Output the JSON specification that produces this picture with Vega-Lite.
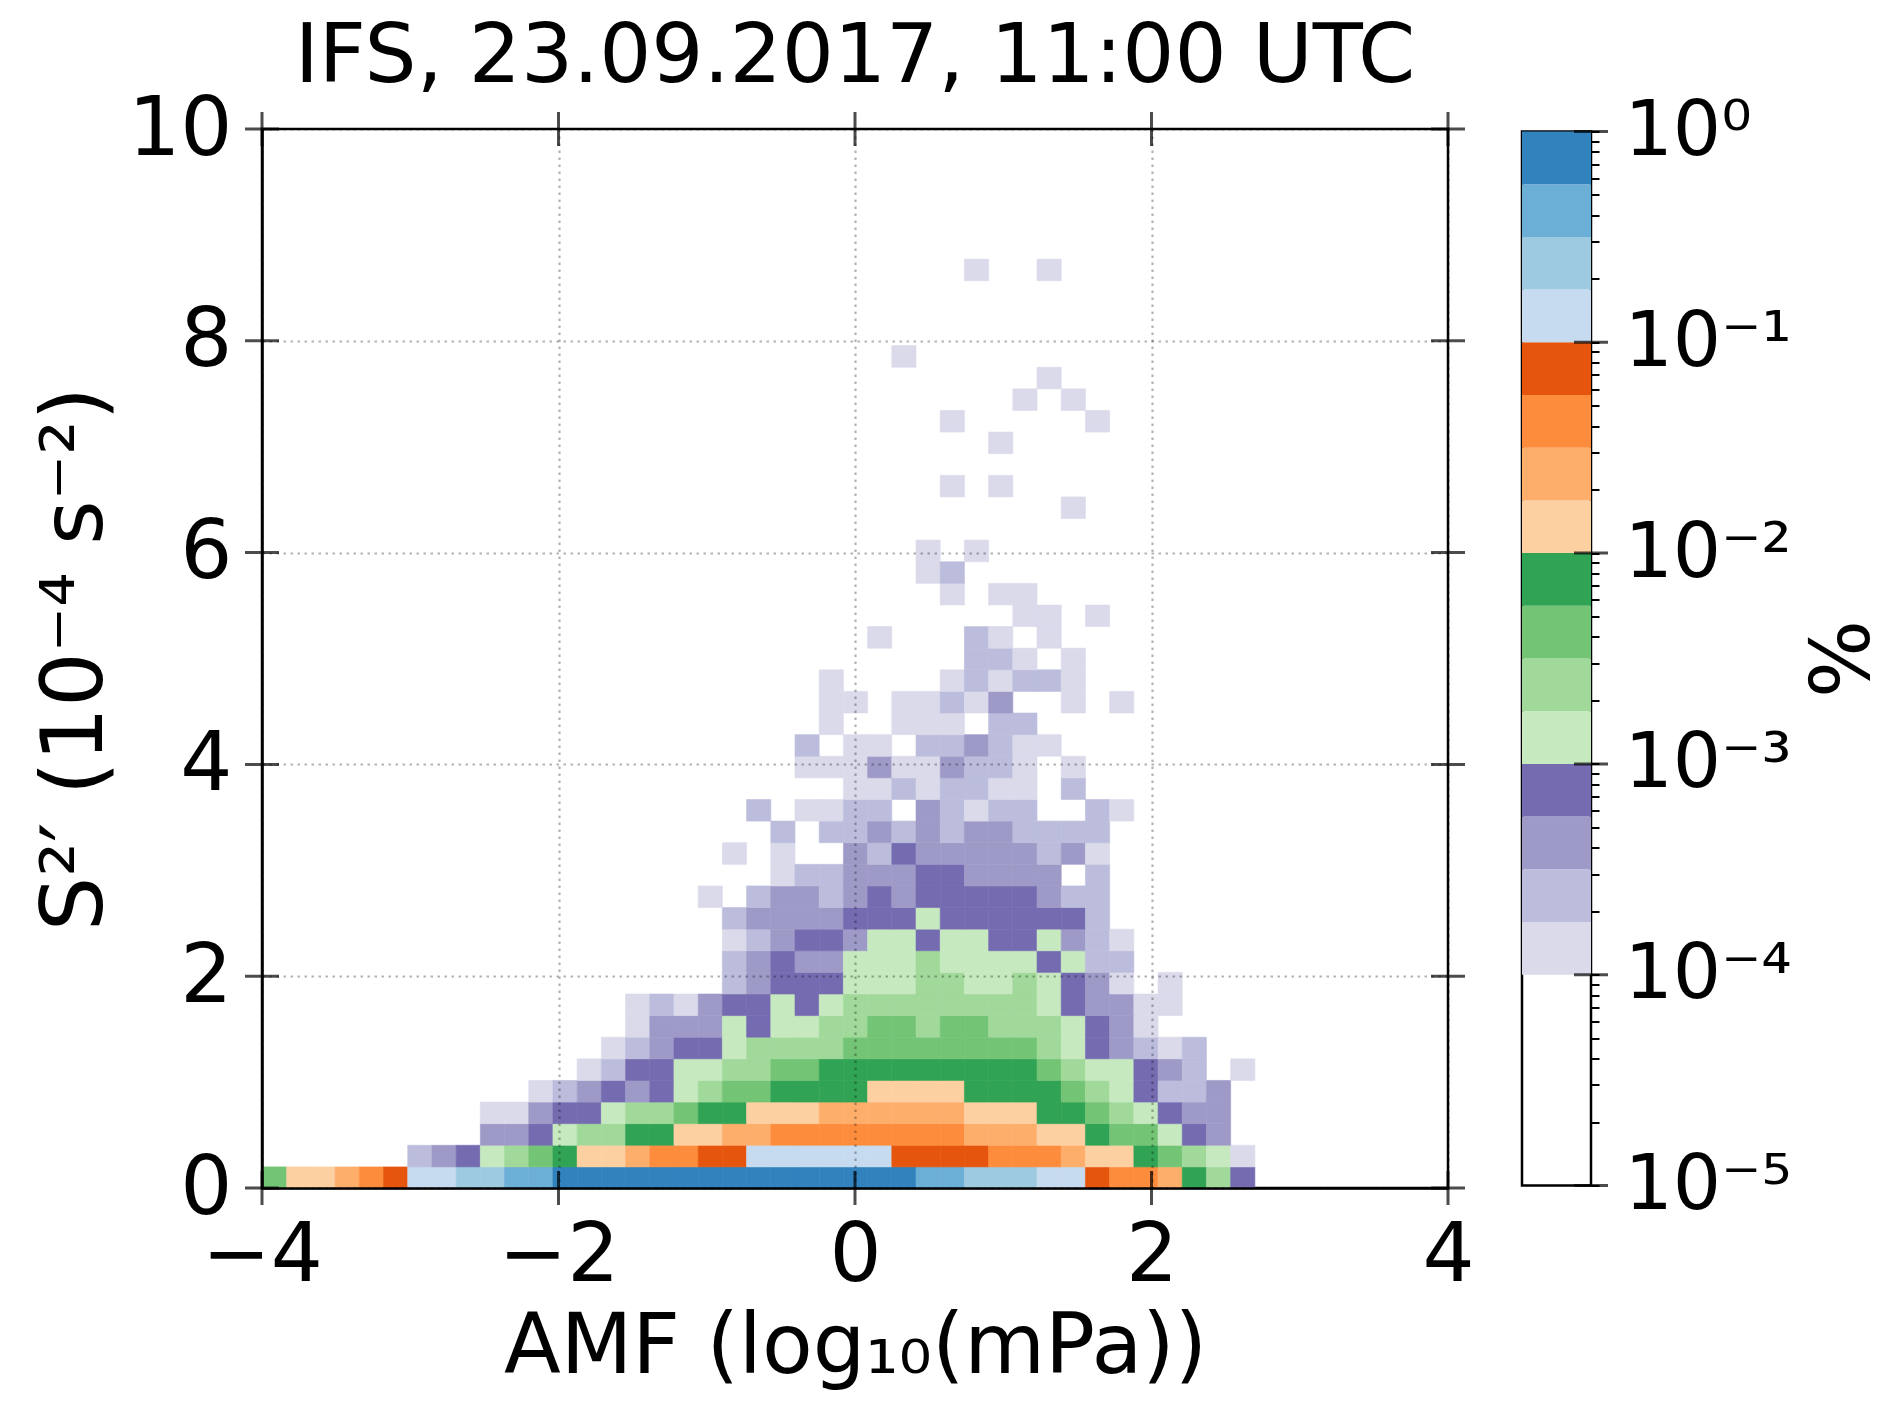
{
  "$schema": "https://vega.github.io/schema/vega-lite/v6.json",
  "autosize": {"type": "none"},
  "padding": {"left": 262, "top": 129, "right": 1630, "bottom": 1283},
  "background": "white",
  "config": {
    "font": "DejaVu Sans",
    "view": {"stroke": "black", "strokeWidth": 2.5},
    "axis": {"labelColor": "black", "titleColor": "black", "titleFontWeight": "normal", "labelFont": "DejaVu Sans", "titleFont": "DejaVu Sans"}
  },
  "datasets": {
    "cells": [
      {"x":-4,"y":0,"p":0.00422},{"x":-3.8367,"y":0,"p":0.0133},{"x":-3.6735,"y":0,"p":0.0133},{"x":-3.5102,"y":0,"p":0.0237},
      {"x":-3.3469,"y":0,"p":0.0422},{"x":-3.1837,"y":0,"p":0.075},{"x":-3.0204,"y":0,"p":0.133},{"x":-2.8571,"y":0,"p":0.133},
      {"x":-2.6939,"y":0,"p":0.237},{"x":-2.5306,"y":0,"p":0.237},{"x":-2.3673,"y":0,"p":0.422},{"x":-2.2041,"y":0,"p":0.422},
      {"x":-2.0408,"y":0,"p":0.75},{"x":-1.8776,"y":0,"p":0.75},{"x":-1.7143,"y":0,"p":0.75},{"x":-1.551,"y":0,"p":0.75},
      {"x":-1.3878,"y":0,"p":0.75},{"x":-1.2245,"y":0,"p":0.75},{"x":-1.0612,"y":0,"p":0.75},{"x":-0.898,"y":0,"p":0.75},
      {"x":-0.7347,"y":0,"p":0.75},{"x":-0.5714,"y":0,"p":0.75},{"x":-0.4082,"y":0,"p":0.75},{"x":-0.2449,"y":0,"p":0.75},
      {"x":-0.0816,"y":0,"p":0.75},{"x":0.0816,"y":0,"p":0.75},{"x":0.2449,"y":0,"p":0.75},{"x":0.4082,"y":0,"p":0.422},
      {"x":0.5714,"y":0,"p":0.422},{"x":0.7347,"y":0,"p":0.237},{"x":0.898,"y":0,"p":0.237},{"x":1.0612,"y":0,"p":0.237},
      {"x":1.2245,"y":0,"p":0.133},{"x":1.3878,"y":0,"p":0.133},{"x":1.551,"y":0,"p":0.075},{"x":1.7143,"y":0,"p":0.0422},
      {"x":1.8776,"y":0,"p":0.0422},{"x":2.0408,"y":0,"p":0.0237},{"x":2.2041,"y":0,"p":0.0075},{"x":2.3673,"y":0,"p":0.00237},
      {"x":2.5306,"y":0,"p":0.00075},

      {"x":-3.0204,"y":0.2041,"p":0.000237},{"x":-2.8571,"y":0.2041,"p":0.000422},{"x":-2.6939,"y":0.2041,"p":0.00075},
      {"x":-2.5306,"y":0.2041,"p":0.00133},{"x":-2.3673,"y":0.2041,"p":0.00237},{"x":-2.2041,"y":0.2041,"p":0.00422},
      {"x":-2.0408,"y":0.2041,"p":0.0075},{"x":-1.8776,"y":0.2041,"p":0.0133},{"x":-1.7143,"y":0.2041,"p":0.0133},
      {"x":-1.551,"y":0.2041,"p":0.0237},{"x":-1.3878,"y":0.2041,"p":0.0422},{"x":-1.2245,"y":0.2041,"p":0.0422},
      {"x":-1.0612,"y":0.2041,"p":0.075},{"x":-0.898,"y":0.2041,"p":0.075},{"x":-0.7347,"y":0.2041,"p":0.133},
      {"x":-0.5714,"y":0.2041,"p":0.133},{"x":-0.4082,"y":0.2041,"p":0.133},{"x":-0.2449,"y":0.2041,"p":0.133},
      {"x":-0.0816,"y":0.2041,"p":0.133},{"x":0.0816,"y":0.2041,"p":0.133},{"x":0.2449,"y":0.2041,"p":0.075},
      {"x":0.4082,"y":0.2041,"p":0.075},{"x":0.5714,"y":0.2041,"p":0.075},{"x":0.7347,"y":0.2041,"p":0.075},
      {"x":0.898,"y":0.2041,"p":0.0422},{"x":1.0612,"y":0.2041,"p":0.0422},{"x":1.2245,"y":0.2041,"p":0.0422},
      {"x":1.3878,"y":0.2041,"p":0.0237},{"x":1.551,"y":0.2041,"p":0.0133},{"x":1.7143,"y":0.2041,"p":0.0133},
      {"x":1.8776,"y":0.2041,"p":0.0075},{"x":2.0408,"y":0.2041,"p":0.00422},{"x":2.2041,"y":0.2041,"p":0.00237},
      {"x":2.3673,"y":0.2041,"p":0.00133},{"x":2.5306,"y":0.2041,"p":0.000133},

      {"x":-2.5306,"y":0.4082,"p":0.000422},{"x":-2.3673,"y":0.4082,"p":0.000422},{"x":-2.2041,"y":0.4082,"p":0.00075},
      {"x":-2.0408,"y":0.4082,"p":0.00133},{"x":-1.8776,"y":0.4082,"p":0.00237},{"x":-1.7143,"y":0.4082,"p":0.00237},
      {"x":-1.551,"y":0.4082,"p":0.0075},{"x":-1.3878,"y":0.4082,"p":0.0075},{"x":-1.2245,"y":0.4082,"p":0.0133},
      {"x":-1.0612,"y":0.4082,"p":0.0133},{"x":-0.898,"y":0.4082,"p":0.0237},{"x":-0.7347,"y":0.4082,"p":0.0237},
      {"x":-0.5714,"y":0.4082,"p":0.0422},{"x":-0.4082,"y":0.4082,"p":0.0422},{"x":-0.2449,"y":0.4082,"p":0.0422},
      {"x":-0.0816,"y":0.4082,"p":0.0422},{"x":0.0816,"y":0.4082,"p":0.0422},{"x":0.2449,"y":0.4082,"p":0.0422},
      {"x":0.4082,"y":0.4082,"p":0.0422},{"x":0.5714,"y":0.4082,"p":0.0422},{"x":0.7347,"y":0.4082,"p":0.0237},
      {"x":0.898,"y":0.4082,"p":0.0237},{"x":1.0612,"y":0.4082,"p":0.0237},{"x":1.2245,"y":0.4082,"p":0.0133},
      {"x":1.3878,"y":0.4082,"p":0.0133},{"x":1.551,"y":0.4082,"p":0.0075},{"x":1.7143,"y":0.4082,"p":0.00422},
      {"x":1.8776,"y":0.4082,"p":0.00422},{"x":2.0408,"y":0.4082,"p":0.00133},{"x":2.2041,"y":0.4082,"p":0.00075},
      {"x":2.3673,"y":0.4082,"p":0.000422},

      {"x":-2.5306,"y":0.6122,"p":0.000133},{"x":-2.3673,"y":0.6122,"p":0.000133},{"x":-2.2041,"y":0.6122,"p":0.000422},
      {"x":-2.0408,"y":0.6122,"p":0.00075},{"x":-1.8776,"y":0.6122,"p":0.00075},{"x":-1.7143,"y":0.6122,"p":0.00133},
      {"x":-1.551,"y":0.6122,"p":0.00237},{"x":-1.3878,"y":0.6122,"p":0.00237},{"x":-1.2245,"y":0.6122,"p":0.00422},
      {"x":-1.0612,"y":0.6122,"p":0.0075},{"x":-0.898,"y":0.6122,"p":0.0075},{"x":-0.7347,"y":0.6122,"p":0.0133},
      {"x":-0.5714,"y":0.6122,"p":0.0133},{"x":-0.4082,"y":0.6122,"p":0.0133},{"x":-0.2449,"y":0.6122,"p":0.0237},
      {"x":-0.0816,"y":0.6122,"p":0.0237},{"x":0.0816,"y":0.6122,"p":0.0237},{"x":0.2449,"y":0.6122,"p":0.0237},
      {"x":0.4082,"y":0.6122,"p":0.0237},{"x":0.5714,"y":0.6122,"p":0.0237},{"x":0.7347,"y":0.6122,"p":0.0133},
      {"x":0.898,"y":0.6122,"p":0.0133},{"x":1.0612,"y":0.6122,"p":0.0133},{"x":1.2245,"y":0.6122,"p":0.0075},
      {"x":1.3878,"y":0.6122,"p":0.0075},{"x":1.551,"y":0.6122,"p":0.00422},{"x":1.7143,"y":0.6122,"p":0.00237},
      {"x":1.8776,"y":0.6122,"p":0.00133},{"x":2.0408,"y":0.6122,"p":0.00075},{"x":2.2041,"y":0.6122,"p":0.000422},
      {"x":2.3673,"y":0.6122,"p":0.000422},

      {"x":-2.2041,"y":0.8163,"p":0.000133},{"x":-2.0408,"y":0.8163,"p":0.000237},{"x":-1.8776,"y":0.8163,"p":0.000422},
      {"x":-1.7143,"y":0.8163,"p":0.00075},{"x":-1.551,"y":0.8163,"p":0.000422},{"x":-1.3878,"y":0.8163,"p":0.00075},
      {"x":-1.2245,"y":0.8163,"p":0.00133},{"x":-1.0612,"y":0.8163,"p":0.00237},{"x":-0.898,"y":0.8163,"p":0.00422},
      {"x":-0.7347,"y":0.8163,"p":0.00422},{"x":-0.5714,"y":0.8163,"p":0.0075},{"x":-0.4082,"y":0.8163,"p":0.0075},
      {"x":-0.2449,"y":0.8163,"p":0.0075},{"x":-0.0816,"y":0.8163,"p":0.0075},{"x":0.0816,"y":0.8163,"p":0.0133},
      {"x":0.2449,"y":0.8163,"p":0.0133},{"x":0.4082,"y":0.8163,"p":0.0133},{"x":0.5714,"y":0.8163,"p":0.0133},
      {"x":0.7347,"y":0.8163,"p":0.0075},{"x":0.898,"y":0.8163,"p":0.0075},{"x":1.0612,"y":0.8163,"p":0.0075},
      {"x":1.2245,"y":0.8163,"p":0.0075},{"x":1.3878,"y":0.8163,"p":0.00422},{"x":1.551,"y":0.8163,"p":0.00237},
      {"x":1.7143,"y":0.8163,"p":0.00133},{"x":1.8776,"y":0.8163,"p":0.00075},{"x":2.0408,"y":0.8163,"p":0.000237},
      {"x":2.2041,"y":0.8163,"p":0.000237},{"x":2.3673,"y":0.8163,"p":0.000422},

      {"x":-1.8776,"y":1.0204,"p":0.000133},{"x":-1.7143,"y":1.0204,"p":0.000237},{"x":-1.551,"y":1.0204,"p":0.00075},
      {"x":-1.3878,"y":1.0204,"p":0.00075},{"x":-1.2245,"y":1.0204,"p":0.00133},{"x":-1.0612,"y":1.0204,"p":0.00133},
      {"x":-0.898,"y":1.0204,"p":0.00237},{"x":-0.7347,"y":1.0204,"p":0.00237},{"x":-0.5714,"y":1.0204,"p":0.00422},
      {"x":-0.4082,"y":1.0204,"p":0.00422},{"x":-0.2449,"y":1.0204,"p":0.0075},{"x":-0.0816,"y":1.0204,"p":0.0075},
      {"x":0.0816,"y":1.0204,"p":0.0075},{"x":0.2449,"y":1.0204,"p":0.0075},{"x":0.4082,"y":1.0204,"p":0.0075},
      {"x":0.5714,"y":1.0204,"p":0.0075},{"x":0.7347,"y":1.0204,"p":0.0075},{"x":0.898,"y":1.0204,"p":0.0075},
      {"x":1.0612,"y":1.0204,"p":0.0075},{"x":1.2245,"y":1.0204,"p":0.00422},{"x":1.3878,"y":1.0204,"p":0.00237},
      {"x":1.551,"y":1.0204,"p":0.00133},{"x":1.7143,"y":1.0204,"p":0.00133},{"x":1.8776,"y":1.0204,"p":0.00075},
      {"x":2.0408,"y":1.0204,"p":0.000422},{"x":2.2041,"y":1.0204,"p":0.000237},{"x":2.5306,"y":1.0204,"p":0.000133},

      {"x":-1.7143,"y":1.2245,"p":0.000133},{"x":-1.551,"y":1.2245,"p":0.000237},{"x":-1.3878,"y":1.2245,"p":0.000422},
      {"x":-1.2245,"y":1.2245,"p":0.00075},{"x":-1.0612,"y":1.2245,"p":0.00075},{"x":-0.898,"y":1.2245,"p":0.00133},
      {"x":-0.7347,"y":1.2245,"p":0.00237},{"x":-0.5714,"y":1.2245,"p":0.00237},{"x":-0.4082,"y":1.2245,"p":0.00237},
      {"x":-0.2449,"y":1.2245,"p":0.00237},{"x":-0.0816,"y":1.2245,"p":0.00422},{"x":0.0816,"y":1.2245,"p":0.00422},
      {"x":0.2449,"y":1.2245,"p":0.00422},{"x":0.4082,"y":1.2245,"p":0.00422},{"x":0.5714,"y":1.2245,"p":0.00422},
      {"x":0.7347,"y":1.2245,"p":0.00422},{"x":0.898,"y":1.2245,"p":0.00422},{"x":1.0612,"y":1.2245,"p":0.00422},
      {"x":1.2245,"y":1.2245,"p":0.00237},{"x":1.3878,"y":1.2245,"p":0.00133},{"x":1.551,"y":1.2245,"p":0.00075},
      {"x":1.7143,"y":1.2245,"p":0.000422},{"x":1.8776,"y":1.2245,"p":0.000237},{"x":2.0408,"y":1.2245,"p":0.000133},
      {"x":2.2041,"y":1.2245,"p":0.000237},

      {"x":-1.551,"y":1.4286,"p":0.000133},{"x":-1.3878,"y":1.4286,"p":0.000422},{"x":-1.2245,"y":1.4286,"p":0.000422},
      {"x":-1.0612,"y":1.4286,"p":0.000422},{"x":-0.898,"y":1.4286,"p":0.00133},{"x":-0.7347,"y":1.4286,"p":0.00075},
      {"x":-0.5714,"y":1.4286,"p":0.00133},{"x":-0.4082,"y":1.4286,"p":0.00133},{"x":-0.2449,"y":1.4286,"p":0.00237},
      {"x":-0.0816,"y":1.4286,"p":0.00237},{"x":0.0816,"y":1.4286,"p":0.00422},{"x":0.2449,"y":1.4286,"p":0.00422},
      {"x":0.4082,"y":1.4286,"p":0.00237},{"x":0.5714,"y":1.4286,"p":0.00422},{"x":0.7347,"y":1.4286,"p":0.00422},
      {"x":0.898,"y":1.4286,"p":0.00237},{"x":1.0612,"y":1.4286,"p":0.00237},{"x":1.2245,"y":1.4286,"p":0.00237},
      {"x":1.3878,"y":1.4286,"p":0.00133},{"x":1.551,"y":1.4286,"p":0.00075},{"x":1.7143,"y":1.4286,"p":0.000422},
      {"x":1.8776,"y":1.4286,"p":0.000133},

      {"x":-1.551,"y":1.6327,"p":0.000133},{"x":-1.3878,"y":1.6327,"p":0.000237},{"x":-1.2245,"y":1.6327,"p":0.000133},
      {"x":-1.0612,"y":1.6327,"p":0.000422},{"x":-0.898,"y":1.6327,"p":0.00075},{"x":-0.7347,"y":1.6327,"p":0.00075},
      {"x":-0.5714,"y":1.6327,"p":0.00133},{"x":-0.4082,"y":1.6327,"p":0.00075},{"x":-0.2449,"y":1.6327,"p":0.00133},
      {"x":-0.0816,"y":1.6327,"p":0.00237},{"x":0.0816,"y":1.6327,"p":0.00237},{"x":0.2449,"y":1.6327,"p":0.00237},
      {"x":0.4082,"y":1.6327,"p":0.00237},{"x":0.5714,"y":1.6327,"p":0.00237},{"x":0.7347,"y":1.6327,"p":0.00237},
      {"x":0.898,"y":1.6327,"p":0.00237},{"x":1.0612,"y":1.6327,"p":0.00237},{"x":1.2245,"y":1.6327,"p":0.00133},
      {"x":1.3878,"y":1.6327,"p":0.00075},{"x":1.551,"y":1.6327,"p":0.000422},{"x":1.7143,"y":1.6327,"p":0.000422},
      {"x":1.8776,"y":1.6327,"p":0.000133},{"x":2.0408,"y":1.6327,"p":0.000133},

      {"x":-0.898,"y":1.8367,"p":0.000237},{"x":-0.7347,"y":1.8367,"p":0.000422},{"x":-0.5714,"y":1.8367,"p":0.00075},
      {"x":-0.4082,"y":1.8367,"p":0.00075},{"x":-0.2449,"y":1.8367,"p":0.00075},{"x":-0.0816,"y":1.8367,"p":0.00133},
      {"x":0.0816,"y":1.8367,"p":0.00133},{"x":0.2449,"y":1.8367,"p":0.00133},{"x":0.4082,"y":1.8367,"p":0.00237},
      {"x":0.5714,"y":1.8367,"p":0.00237},{"x":0.7347,"y":1.8367,"p":0.00133},{"x":0.898,"y":1.8367,"p":0.00133},
      {"x":1.0612,"y":1.8367,"p":0.00237},{"x":1.2245,"y":1.8367,"p":0.00133},{"x":1.3878,"y":1.8367,"p":0.00075},
      {"x":1.551,"y":1.8367,"p":0.000422},{"x":1.7143,"y":1.8367,"p":0.000133},{"x":2.0408,"y":1.8367,"p":0.000133},

      {"x":-0.898,"y":2.0408,"p":0.000237},{"x":-0.7347,"y":2.0408,"p":0.000422},{"x":-0.5714,"y":2.0408,"p":0.00075},
      {"x":-0.4082,"y":2.0408,"p":0.000422},{"x":-0.2449,"y":2.0408,"p":0.000422},{"x":-0.0816,"y":2.0408,"p":0.00133},
      {"x":0.0816,"y":2.0408,"p":0.00133},{"x":0.2449,"y":2.0408,"p":0.00133},{"x":0.4082,"y":2.0408,"p":0.00237},
      {"x":0.5714,"y":2.0408,"p":0.00133},{"x":0.7347,"y":2.0408,"p":0.00133},{"x":0.898,"y":2.0408,"p":0.00133},
      {"x":1.0612,"y":2.0408,"p":0.00133},{"x":1.2245,"y":2.0408,"p":0.00075},{"x":1.3878,"y":2.0408,"p":0.00133},
      {"x":1.551,"y":2.0408,"p":0.000237},{"x":1.7143,"y":2.0408,"p":0.000237},

      {"x":-0.898,"y":2.2449,"p":0.000133},{"x":-0.7347,"y":2.2449,"p":0.000237},{"x":-0.5714,"y":2.2449,"p":0.000422},
      {"x":-0.4082,"y":2.2449,"p":0.00075},{"x":-0.2449,"y":2.2449,"p":0.00075},{"x":-0.0816,"y":2.2449,"p":0.000422},
      {"x":0.0816,"y":2.2449,"p":0.00133},{"x":0.2449,"y":2.2449,"p":0.00133},{"x":0.4082,"y":2.2449,"p":0.00075},
      {"x":0.5714,"y":2.2449,"p":0.00133},{"x":0.7347,"y":2.2449,"p":0.00133},{"x":0.898,"y":2.2449,"p":0.00075},
      {"x":1.0612,"y":2.2449,"p":0.00075},{"x":1.2245,"y":2.2449,"p":0.00133},{"x":1.3878,"y":2.2449,"p":0.000422},
      {"x":1.551,"y":2.2449,"p":0.000237},{"x":1.7143,"y":2.2449,"p":0.000133},

      {"x":-0.898,"y":2.449,"p":0.000237},{"x":-0.7347,"y":2.449,"p":0.000422},{"x":-0.5714,"y":2.449,"p":0.000422},
      {"x":-0.4082,"y":2.449,"p":0.000422},{"x":-0.2449,"y":2.449,"p":0.000422},{"x":-0.0816,"y":2.449,"p":0.00075},
      {"x":0.0816,"y":2.449,"p":0.00075},{"x":0.2449,"y":2.449,"p":0.00075},{"x":0.4082,"y":2.449,"p":0.00133},
      {"x":0.5714,"y":2.449,"p":0.00075},{"x":0.7347,"y":2.449,"p":0.00075},{"x":0.898,"y":2.449,"p":0.00075},
      {"x":1.0612,"y":2.449,"p":0.00075},{"x":1.2245,"y":2.449,"p":0.00075},{"x":1.3878,"y":2.449,"p":0.00075},
      {"x":1.551,"y":2.449,"p":0.000237},

      {"x":-1.0612,"y":2.6531,"p":0.000133},{"x":-0.7347,"y":2.6531,"p":0.000237},{"x":-0.5714,"y":2.6531,"p":0.000422},
      {"x":-0.4082,"y":2.6531,"p":0.000422},{"x":-0.2449,"y":2.6531,"p":0.000237},{"x":-0.0816,"y":2.6531,"p":0.000422},
      {"x":0.0816,"y":2.6531,"p":0.00075},{"x":0.2449,"y":2.6531,"p":0.000422},{"x":0.4082,"y":2.6531,"p":0.00075},
      {"x":0.5714,"y":2.6531,"p":0.00075},{"x":0.7347,"y":2.6531,"p":0.00075},{"x":0.898,"y":2.6531,"p":0.00075},
      {"x":1.0612,"y":2.6531,"p":0.00075},{"x":1.2245,"y":2.6531,"p":0.000422},{"x":1.3878,"y":2.6531,"p":0.000237},
      {"x":1.551,"y":2.6531,"p":0.000237},

      {"x":-0.5714,"y":2.8571,"p":0.000133},{"x":-0.4082,"y":2.8571,"p":0.000237},{"x":-0.2449,"y":2.8571,"p":0.000237},
      {"x":-0.0816,"y":2.8571,"p":0.000422},{"x":0.0816,"y":2.8571,"p":0.000422},{"x":0.2449,"y":2.8571,"p":0.000422},
      {"x":0.4082,"y":2.8571,"p":0.00075},{"x":0.5714,"y":2.8571,"p":0.00075},{"x":0.7347,"y":2.8571,"p":0.000422},
      {"x":0.898,"y":2.8571,"p":0.000422},{"x":1.0612,"y":2.8571,"p":0.000422},{"x":1.2245,"y":2.8571,"p":0.000422},
      {"x":1.551,"y":2.8571,"p":0.000237},

      {"x":-0.898,"y":3.0612,"p":0.000133},{"x":-0.5714,"y":3.0612,"p":0.000133},{"x":-0.0816,"y":3.0612,"p":0.000422},
      {"x":0.0816,"y":3.0612,"p":0.000237},{"x":0.2449,"y":3.0612,"p":0.00075},{"x":0.4082,"y":3.0612,"p":0.000422},
      {"x":0.5714,"y":3.0612,"p":0.000422},{"x":0.7347,"y":3.0612,"p":0.000422},{"x":0.898,"y":3.0612,"p":0.000422},
      {"x":1.0612,"y":3.0612,"p":0.000422},{"x":1.2245,"y":3.0612,"p":0.000237},{"x":1.3878,"y":3.0612,"p":0.000422},
      {"x":1.551,"y":3.0612,"p":0.000133},

      {"x":-0.5714,"y":3.2653,"p":0.000237},{"x":-0.2449,"y":3.2653,"p":0.000237},{"x":-0.0816,"y":3.2653,"p":0.000237},
      {"x":0.0816,"y":3.2653,"p":0.000422},{"x":0.2449,"y":3.2653,"p":0.000237},{"x":0.4082,"y":3.2653,"p":0.000422},
      {"x":0.5714,"y":3.2653,"p":0.000237},{"x":0.7347,"y":3.2653,"p":0.000422},{"x":0.898,"y":3.2653,"p":0.000422},
      {"x":1.0612,"y":3.2653,"p":0.000237},{"x":1.2245,"y":3.2653,"p":0.000237},{"x":1.3878,"y":3.2653,"p":0.000237},
      {"x":1.551,"y":3.2653,"p":0.000237},

      {"x":-0.7347,"y":3.4694,"p":0.000237},{"x":-0.4082,"y":3.4694,"p":0.000133},{"x":-0.2449,"y":3.4694,"p":0.000133},
      {"x":-0.0816,"y":3.4694,"p":0.000237},{"x":0.0816,"y":3.4694,"p":0.000237},{"x":0.4082,"y":3.4694,"p":0.000422},
      {"x":0.5714,"y":3.4694,"p":0.000237},{"x":0.7347,"y":3.4694,"p":0.000133},{"x":0.898,"y":3.4694,"p":0.000237},
      {"x":1.0612,"y":3.4694,"p":0.000237},{"x":1.551,"y":3.4694,"p":0.000237},{"x":1.7143,"y":3.4694,"p":0.000133},

      {"x":-0.0816,"y":3.6735,"p":0.000133},{"x":0.0816,"y":3.6735,"p":0.000133},{"x":0.2449,"y":3.6735,"p":0.000237},
      {"x":0.4082,"y":3.6735,"p":0.000133},{"x":0.5714,"y":3.6735,"p":0.000237},{"x":0.7347,"y":3.6735,"p":0.000237},
      {"x":0.898,"y":3.6735,"p":0.000133},{"x":1.0612,"y":3.6735,"p":0.000133},{"x":1.3878,"y":3.6735,"p":0.000237},

      {"x":-0.4082,"y":3.8776,"p":0.000133},{"x":-0.2449,"y":3.8776,"p":0.000133},{"x":-0.0816,"y":3.8776,"p":0.000133},
      {"x":0.0816,"y":3.8776,"p":0.000422},{"x":0.2449,"y":3.8776,"p":0.000133},{"x":0.4082,"y":3.8776,"p":0.000133},
      {"x":0.5714,"y":3.8776,"p":0.000422},{"x":0.7347,"y":3.8776,"p":0.000237},{"x":0.898,"y":3.8776,"p":0.000237},
      {"x":1.0612,"y":3.8776,"p":0.000133},{"x":1.3878,"y":3.8776,"p":0.000133},

      {"x":-0.4082,"y":4.0816,"p":0.000237},{"x":-0.0816,"y":4.0816,"p":0.000133},{"x":0.0816,"y":4.0816,"p":0.000133},
      {"x":0.4082,"y":4.0816,"p":0.000237},{"x":0.5714,"y":4.0816,"p":0.000237},{"x":0.7347,"y":4.0816,"p":0.000422},
      {"x":0.898,"y":4.0816,"p":0.000237},{"x":1.0612,"y":4.0816,"p":0.000133},{"x":1.2245,"y":4.0816,"p":0.000133},

      {"x":-0.2449,"y":4.2857,"p":0.000133},{"x":0.2449,"y":4.2857,"p":0.000133},{"x":0.4082,"y":4.2857,"p":0.000133},
      {"x":0.5714,"y":4.2857,"p":0.000133},{"x":0.898,"y":4.2857,"p":0.000237},{"x":1.0612,"y":4.2857,"p":0.000237},

      {"x":-0.2449,"y":4.4898,"p":0.000133},{"x":-0.0816,"y":4.4898,"p":0.000133},{"x":0.2449,"y":4.4898,"p":0.000133},
      {"x":0.4082,"y":4.4898,"p":0.000133},{"x":0.5714,"y":4.4898,"p":0.000237},{"x":0.7347,"y":4.4898,"p":0.000133},
      {"x":0.898,"y":4.4898,"p":0.000422},{"x":1.3878,"y":4.4898,"p":0.000133},{"x":1.7143,"y":4.4898,"p":0.000133},

      {"x":-0.2449,"y":4.6939,"p":0.000133},{"x":0.5714,"y":4.6939,"p":0.000133},{"x":0.7347,"y":4.6939,"p":0.000237},
      {"x":0.898,"y":4.6939,"p":0.000133},{"x":1.0612,"y":4.6939,"p":0.000237},{"x":1.2245,"y":4.6939,"p":0.000237},
      {"x":1.3878,"y":4.6939,"p":0.000133},

      {"x":0.7347,"y":4.898,"p":0.000237},{"x":0.898,"y":4.898,"p":0.000237},{"x":1.0612,"y":4.898,"p":0.000133},
      {"x":1.3878,"y":4.898,"p":0.000133},

      {"x":0.0816,"y":5.102,"p":0.000133},{"x":0.7347,"y":5.102,"p":0.000237},{"x":0.898,"y":5.102,"p":0.000133},
      {"x":1.2245,"y":5.102,"p":0.000133},

      {"x":1.0612,"y":5.3061,"p":0.000133},{"x":1.2245,"y":5.3061,"p":0.000133},{"x":1.551,"y":5.3061,"p":0.000133},
      {"x":0.5714,"y":5.5102,"p":0.000133},{"x":0.898,"y":5.5102,"p":0.000133},{"x":1.0612,"y":5.5102,"p":0.000133},
      {"x":0.4082,"y":5.7143,"p":0.000133},{"x":0.5714,"y":5.7143,"p":0.000237},
      {"x":0.4082,"y":5.9184,"p":0.000133},{"x":0.7347,"y":5.9184,"p":0.000133},
      {"x":1.3878,"y":6.3265,"p":0.000133},
      {"x":0.5714,"y":6.5306,"p":0.000133},{"x":0.898,"y":6.5306,"p":0.000133},
      {"x":0.898,"y":6.9388,"p":0.000133},
      {"x":0.5714,"y":7.1429,"p":0.000133},{"x":1.551,"y":7.1429,"p":0.000133},
      {"x":1.0612,"y":7.3469,"p":0.000133},{"x":1.3878,"y":7.3469,"p":0.000133},
      {"x":1.2245,"y":7.551,"p":0.000133},
      {"x":0.2449,"y":7.7551,"p":0.000133},
      {"x":0.7347,"y":8.5714,"p":0.000133},{"x":1.2245,"y":8.5714,"p":0.000133}
    ],
    "bands": [
      {"lo":0.0001,"hi":0.0001778,"p":0.000133},{"lo":0.0001778,"hi":0.0003162,"p":0.000237},
      {"lo":0.0003162,"hi":0.0005623,"p":0.000422},{"lo":0.0005623,"hi":0.001,"p":0.00075},
      {"lo":0.001,"hi":0.001778,"p":0.00133},{"lo":0.001778,"hi":0.003162,"p":0.00237},
      {"lo":0.003162,"hi":0.005623,"p":0.00422},{"lo":0.005623,"hi":0.01,"p":0.0075},
      {"lo":0.01,"hi":0.01778,"p":0.0133},{"lo":0.01778,"hi":0.03162,"p":0.0237},
      {"lo":0.03162,"hi":0.05623,"p":0.0422},{"lo":0.05623,"hi":0.1,"p":0.075},
      {"lo":0.1,"hi":0.1778,"p":0.133},{"lo":0.1778,"hi":0.3162,"p":0.237},
      {"lo":0.3162,"hi":0.5623,"p":0.422},{"lo":0.5623,"hi":1,"p":0.75}
    ]
  },
  "hconcat": [
    {
      "width": 1186,
      "height": 1059,
      "title": {"text": "IFS, 23.09.2017, 11:00 UTC", "fontSize": 82, "fontWeight": "normal", "color": "black", "anchor": "middle", "frame": "group", "baseline": "alphabetic", "offset": 8, "dy": 84},
      "layer": [
        {
          "data": {"name": "cells"},
          "mark": {"type": "rect", "strokeWidth": 0.6},
          "encoding": {
            "x": {"field": "x", "type": "quantitative", "bin": {"binned": true, "step": 0.163265},
              "scale": {"domain": [-4, 4], "nice": false},
              "axis": {"title": "AMF (log₁₀(mPa))", "values": [-4, -2, 0, 2, 4], "format": "d", "ticks": false, "tickSize": 0,
                "domain": true, "domainColor": "black", "domainWidth": 2.5,
                "grid": true, "gridColor": "black", "gridOpacity": 0.3, "gridDash": [2.5, 4.5], "gridWidth": 2.2,
                "labelFontSize": 82, "labelPadding": 27, "labelFlush": false, "titleFontSize": 83, "titlePadding": 10, "zindex": 1}},
            "y": {"field": "y", "type": "quantitative", "bin": {"binned": true, "step": 0.204082},
              "scale": {"domain": [0, 10], "nice": false},
              "axis": {"title": "S²′ (10⁻⁴ s⁻²)", "values": [0, 2, 4, 6, 8, 10], "format": "d", "ticks": false, "tickSize": 0,
                "domain": true, "domainColor": "black", "domainWidth": 2.5,
                "grid": true, "gridColor": "black", "gridOpacity": 0.3, "gridDash": [2.5, 4.5], "gridWidth": 2.2,
                "labelFontSize": 82, "labelPadding": 30, "labelFlush": false, "titleFontSize": 86, "titlePadding": 8, "zindex": 1}},
            "color": {"field": "p", "type": "quantitative", "legend": null,
              "scale": {"type": "threshold",
                "domain": [0.0001, 0.0001778, 0.0003162, 0.0005623, 0.001, 0.001778, 0.003162, 0.005623, 0.01, 0.01778, 0.03162, 0.05623, 0.1, 0.1778, 0.3162, 0.5623],
                "range": ["#ffffff", "#dadaeb", "#bcbddc", "#9e9ac8", "#756bb1", "#c7e9c0", "#a1d99b", "#74c476", "#31a354", "#fdd0a2", "#fdae6b", "#fd8d3c", "#e6550d", "#c6dbef", "#9ecae1", "#6baed6", "#3182bd"]}},
            "stroke": {"field": "p", "type": "quantitative", "legend": null,
              "scale": {"type": "threshold",
                "domain": [0.0001, 0.0001778, 0.0003162, 0.0005623, 0.001, 0.001778, 0.003162, 0.005623, 0.01, 0.01778, 0.03162, 0.05623, 0.1, 0.1778, 0.3162, 0.5623],
                "range": ["#ffffff", "#dadaeb", "#bcbddc", "#9e9ac8", "#756bb1", "#c7e9c0", "#a1d99b", "#74c476", "#31a354", "#fdd0a2", "#fdae6b", "#fd8d3c", "#e6550d", "#c6dbef", "#9ecae1", "#6baed6", "#3182bd"]}}
          }
        },
        {
          "data": {"values": [{"t": -4}, {"t": -2}, {"t": 0}, {"t": 2}, {"t": 4}]},
          "mark": {"type": "tick", "orient": "vertical", "size": 34, "thickness": 3, "color": "black"},
          "encoding": {"x": {"field": "t", "type": "quantitative"}, "y": {"datum": 0, "type": "quantitative"}}
        },
        {
          "data": {"values": [{"t": -4}, {"t": -2}, {"t": 0}, {"t": 2}, {"t": 4}]},
          "mark": {"type": "tick", "orient": "vertical", "size": 34, "thickness": 3, "color": "black"},
          "encoding": {"x": {"field": "t", "type": "quantitative"}, "y": {"datum": 10, "type": "quantitative"}}
        },
        {
          "data": {"values": [{"t": 0}, {"t": 2}, {"t": 4}, {"t": 6}, {"t": 8}, {"t": 10}]},
          "mark": {"type": "tick", "orient": "horizontal", "size": 34, "thickness": 3, "color": "black"},
          "encoding": {"y": {"field": "t", "type": "quantitative"}, "x": {"datum": -4, "type": "quantitative"}}
        },
        {
          "data": {"values": [{"t": 0}, {"t": 2}, {"t": 4}, {"t": 6}, {"t": 8}, {"t": 10}]},
          "mark": {"type": "tick", "orient": "horizontal", "size": 34, "thickness": 3, "color": "black"},
          "encoding": {"y": {"field": "t", "type": "quantitative"}, "x": {"datum": 4, "type": "quantitative"}}
        }
      ]
    },
    {
      "width": 69,
      "height": 1054,
      "layer": [
        {
          "data": {"name": "bands"},
          "mark": {"type": "rect"},
          "encoding": {
            "x": {"datum": 0, "type": "quantitative", "scale": {"domain": [0, 1]}, "axis": null},
            "x2": {"datum": 1},
            "y": {"field": "lo", "type": "quantitative",
              "scale": {"type": "log", "domain": [0.00001, 1], "nice": false},
              "axis": {"orient": "right", "title": "%", "titleAngle": 270, "titleBaseline": "top", "titleFontSize": 82, "titlePadding": 12,
                "values": [0.00001, 0.00002, 0.00003, 0.00004, 0.00005, 0.00006, 0.00007, 0.00008, 0.00009,
                  0.0001, 0.0002, 0.0003, 0.0004, 0.0005, 0.0006, 0.0007, 0.0008, 0.0009,
                  0.001, 0.002, 0.003, 0.004, 0.005, 0.006, 0.007, 0.008, 0.009,
                  0.01, 0.02, 0.03, 0.04, 0.05, 0.06, 0.07, 0.08, 0.09,
                  0.1, 0.2, 0.3, 0.4, 0.5, 0.6, 0.7, 0.8, 0.9, 1],
                "labelExpr": "datum.value == 1 ? '10⁰' : datum.value == 0.1 ? '10⁻¹' : datum.value == 0.01 ? '10⁻²' : datum.value == 0.001 ? '10⁻³' : datum.value == 0.0001 ? '10⁻⁴' : datum.value == 0.00001 ? '10⁻⁵' : ''",
                "labelOverlap": false, "labelFlush": false, "labelBound": false, "labelFontSize": 76, "labelPadding": 25,
                "ticks": true, "tickSize": 8, "tickWidth": 2, "tickColor": "black", "domain": false, "grid": false}},
            "y2": {"field": "hi"},
            "color": {"field": "p", "type": "quantitative", "legend": null,
              "scale": {"type": "threshold",
                "domain": [0.0001, 0.0001778, 0.0003162, 0.0005623, 0.001, 0.001778, 0.003162, 0.005623, 0.01, 0.01778, 0.03162, 0.05623, 0.1, 0.1778, 0.3162, 0.5623],
                "range": ["#ffffff", "#dadaeb", "#bcbddc", "#9e9ac8", "#756bb1", "#c7e9c0", "#a1d99b", "#74c476", "#31a354", "#fdd0a2", "#fdae6b", "#fd8d3c", "#e6550d", "#c6dbef", "#9ecae1", "#6baed6", "#3182bd"]}}
          }
        },
        {
          "data": {"values": [{"v": 0.00001}, {"v": 0.0001}, {"v": 0.001}, {"v": 0.01}, {"v": 0.1}, {"v": 1}]},
          "mark": {"type": "tick", "orient": "horizontal", "size": 34, "thickness": 3, "color": "black"},
          "encoding": {"x": {"datum": 1, "type": "quantitative"}, "y": {"field": "v", "type": "quantitative"}}
        }
      ]
    }
  ],
  "spacing": 74,
  "bounds": "flush",
  "center": true
}
